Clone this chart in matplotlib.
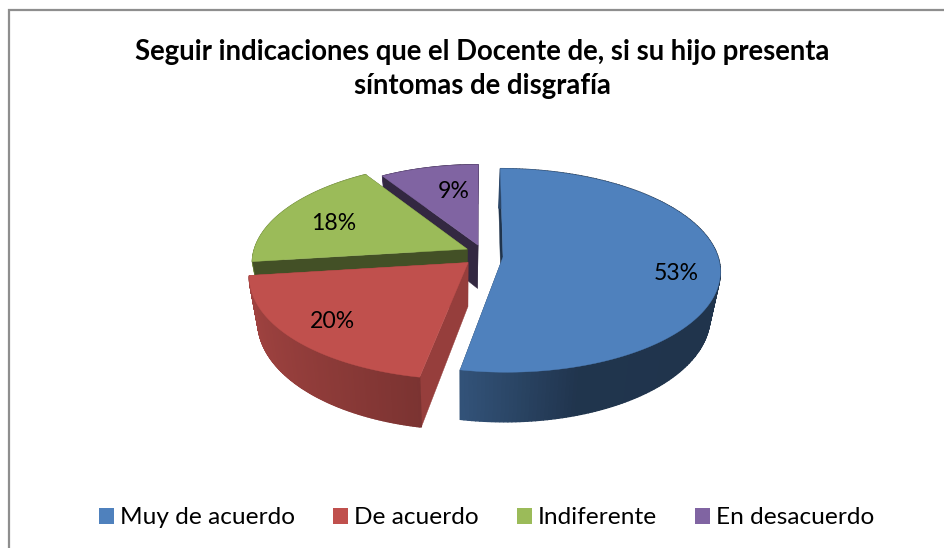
import numpy as np
from matplotlib import pyplot as plt
from matplotlib.colors import to_rgb
from matplotlib.patches import Patch, Rectangle

categories = ['Muy de acuerdo', 'De acuerdo', 'Indiferente', 'En desacuerdo']
values = [53, 20, 18, 9]
shift_u = [0.107, -0.055, -0.06, -0.009]
shift_v = [0.0, 0.055, -0.08, -0.12]
radius = [1.0, 1.0, 1.0, 0.93]
colors = ['#4F81BD', '#C0504D', '#9BBB59', '#8064A2']
cut_shade = [0.40, 0.78, 0.43, 0.40]
cut_over_wall = [False, False, True, True]
title = 'Seguir indicaciones que el Docente de, si su hijo presenta\nsíntomas de disgrafía'

# text anchors in pixels
label_pos = [(676, 274), (332, 321.5), (334, 223.5), (454, 192)]

# fake 3d camera, fitted by eye against the picture
CX, CY = 480, 257
RX, RY = 215, 100
PERSP = 0.132


def project(u, v):
    s = 1 / (1 - PERSP * v)
    return CX + RX * u * s, CY + RY * v * s


def drop(x, y):
    # where a point of the top face lands on the bottom face
    return 463 + 0.96 * (x - 463), 1.05 * y + 31


def shade(color, k):
    return tuple(np.array(to_rgb(color)) * k)


def wall_shade(u):
    return np.interp(u, [-1.0, -0.18, 0.3, 1.0], [0.83, 0.64, 0.41, 0.40])


plt.rcParams['font.family'] = ['Lato', 'DejaVu Sans']

fig = plt.figure(figsize=(9.44, 5.48), dpi=100)
ax = fig.add_axes([0, 0, 1, 1])
ax.set_xlim(0, 944)
ax.set_ylim(548, 0)
ax.axis('off')

ax.add_patch(Rectangle((9, 10), 960, 560, facecolor='white', edgecolor='#8e8e8e', linewidth=1.6, zorder=0))

fracs = np.array(values) / np.sum(values)
ends = np.cumsum(fracs) * 2 * np.pi
starts = ends - fracs * 2 * np.pi

# back slices first, so the front ones paint over them
order = [3, 2, 1, 0]
for rank, i in enumerate(order):
    base = 1 + rank * 4
    a = np.linspace(starts[i], ends[i], 200)
    tx, ty = project(shift_u[i] + radius[i] * np.sin(a), shift_v[i] - radius[i] * np.cos(a))
    apx, apy = project(shift_u[i], shift_v[i])
    bx, by = drop(tx, ty)
    abx, aby = drop(apx, apy)

    for j in range(len(a) - 1):
        wall = shade(colors[i], wall_shade(np.sin(a[j])))
        ax.fill([tx[j], tx[j + 1], bx[j + 1], bx[j]], [ty[j], ty[j + 1], by[j + 1], by[j]],
                color=wall, lw=1.0, zorder=base + 1)

    cut = shade(colors[i], cut_shade[i])
    cut_z = base + 2 if cut_over_wall[i] else base
    for j in [0, -1]:
        ax.fill([apx, tx[j], bx[j], abx], [apy, ty[j], by[j], aby], color=cut, lw=0.3, zorder=cut_z)

    ax.fill(np.r_[apx, tx], np.r_[apy, ty], color=colors[i], lw=0.3, zorder=base + 3)

for (x, y), val in zip(label_pos, values):
    ax.text(x, y, f'{val}%', ha='center', va='center', fontsize=16.6, color='black', zorder=30)

ax.text(482, 69, title, ha='center', va='center', fontsize=19.8, fontweight='bold', color='black', linespacing=1.38, zorder=30)

handles = [Patch(facecolor=c, edgecolor='none') for c in colors]
leg = ax.legend(handles, categories, loc='center', bbox_to_anchor=(487 / 944, 1 - 518 / 548),
                ncols=4, frameon=False, fontsize=17.6, handlelength=0.614, handleheight=0.614,
                handletextpad=0.25, columnspacing=1.55, borderpad=0)
leg.set_zorder(30)

fig.savefig('out.png', dpi=100)
plt.close(fig)
